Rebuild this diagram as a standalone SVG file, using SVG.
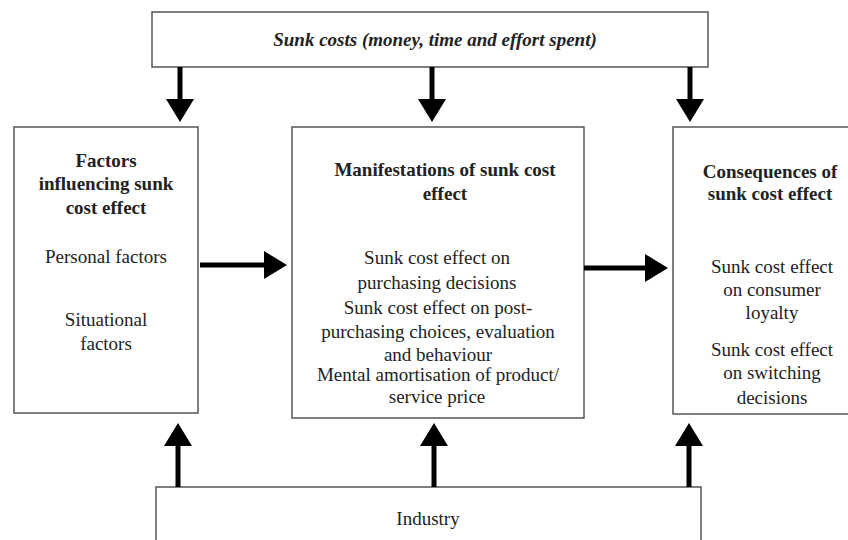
<svg xmlns="http://www.w3.org/2000/svg" width="848" height="540" viewBox="0 0 848 540">
<style>
.box{fill:#fff;stroke:#555;stroke-width:1.5}
text{font-family:"Liberation Serif","Times New Roman",serif;font-size:19px;fill:#222;text-anchor:middle}
.b{font-weight:bold}
.bi{font-weight:bold;font-style:italic}
.arr{stroke:#000;stroke-width:5;fill:none;marker-end:url(#head)}
</style>
<defs>
<marker id="head" markerUnits="userSpaceOnUse" markerWidth="24" markerHeight="28" refX="0" refY="14" orient="auto" overflow="visible">
<path d="M0,0 L23,14 L0,28 Z" fill="#000"/>
</marker>
</defs>
<rect width="848" height="540" fill="#fff"/>
<g id="sunk-costs">
<rect class="box" x="152" y="12" width="556" height="55"/>
<text class="bi" x="435" y="46">Sunk costs (money, time and effort spent)</text>
</g>
<g id="factors">
<rect class="box" x="14" y="127" width="184" height="286"/>
<text class="b" x="106" y="167">Factors</text>
<text class="b" x="106" y="190">influencing sunk</text>
<text class="b" x="106" y="214">cost effect</text>
<text x="106" y="263">Personal factors</text>
<text x="106" y="326">Situational</text>
<text x="106" y="350">factors</text>
</g>
<g id="manifestations">
<rect class="box" x="292" y="127" width="292" height="291"/>
<text class="b" x="445" y="176">Manifestations of sunk cost</text>
<text class="b" x="445" y="200">effect</text>
<text x="437" y="264">Sunk cost effect on</text>
<text x="437" y="289">purchasing decisions</text>
<text x="438" y="314">Sunk cost effect on post-</text>
<text x="438" y="338">purchasing choices, evaluation</text>
<text x="438" y="361">and behaviour</text>
<text x="438" y="381">Mental amortisation of product/</text>
<text x="437" y="403">service price</text>
</g>
<g id="consequences">
<rect class="box" x="673" y="127" width="200" height="287"/>
<text class="b" x="770" y="178">Consequences of</text>
<text class="b" x="770" y="200">sunk cost effect</text>
<text x="772" y="273">Sunk cost effect</text>
<text x="772" y="296">on consumer</text>
<text x="772" y="319">loyalty</text>
<text x="772" y="356">Sunk cost effect</text>
<text x="772" y="379">on switching</text>
<text x="772" y="404">decisions</text>
</g>
<g id="industry">
<rect class="box" x="156" y="487" width="545" height="80"/>
<text x="428" y="525">Industry</text>
</g>
<g id="connectors">
<line class="arr" x1="180" y1="67" x2="180" y2="99"/>
<line class="arr" x1="432" y1="67" x2="432" y2="99"/>
<line class="arr" x1="690" y1="67" x2="690" y2="99"/>
<line class="arr" x1="200" y1="265" x2="264" y2="265"/>
<line class="arr" x1="584" y1="268" x2="645" y2="268"/>
<line class="arr" x1="178" y1="487" x2="178" y2="446"/>
<line class="arr" x1="434" y1="487" x2="434" y2="446"/>
<line class="arr" x1="689" y1="487" x2="689" y2="446"/>
</g>
</svg>
